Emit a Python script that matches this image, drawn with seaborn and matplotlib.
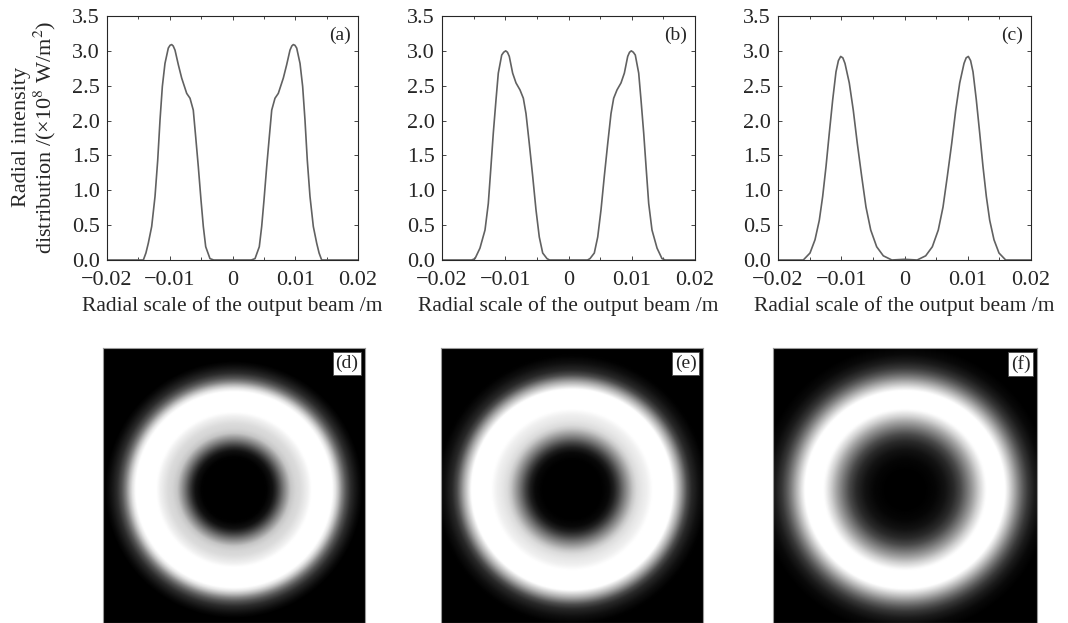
import numpy as np
import matplotlib
matplotlib.use("Agg")
import matplotlib.pyplot as plt
import seaborn as sns
import pandas as pd

# радиальные профили (половина пучка, r в метрах), читаются с рисунка
r_a = [0.0, 0.0030, 0.00359, 0.00427, 0.00465, 0.00502, 0.00545, 0.00587, 0.00625,
       0.00677, 0.0073, 0.0081, 0.00863, 0.00916, 0.00945, 0.00969, 0.00995, 0.01023,
       0.01076, 0.01118, 0.01155, 0.01192, 0.01235, 0.01288, 0.01342, 0.0138, 0.01421,
       0.0150, 0.0200]
I_a = [0.0, 0.0, 0.02, 0.19, 0.48, 0.86, 1.34, 1.77, 2.15,
       2.32, 2.39, 2.61, 2.80, 3.01, 3.07, 3.09, 3.08, 3.04,
       2.82, 2.49, 2.01, 1.43, 0.91, 0.48, 0.24, 0.10, 0.0,
       0.0, 0.0]

r_b = [0.0, 0.0030, 0.0034, 0.00408, 0.00462, 0.00514, 0.00566, 0.0062, 0.00672,
       0.00714, 0.00767, 0.0083, 0.00883, 0.00936, 0.00965, 0.00993, 0.01025, 0.01056,
       0.0111, 0.01146, 0.01189, 0.0123, 0.01268, 0.0132, 0.0140, 0.01478, 0.0153,
       0.0200]
I_b = [0.0, 0.0, 0.02, 0.10, 0.33, 0.72, 1.20, 1.67, 2.10,
       2.32, 2.44, 2.54, 2.68, 2.92, 2.98, 3.00, 2.98, 2.94,
       2.68, 2.30, 1.82, 1.29, 0.81, 0.43, 0.17, 0.02, 0.0,
       0.0]

r_c = [0.0, 0.0020, 0.00335, 0.0044, 0.00534, 0.00609, 0.00677, 0.00746, 0.0081,
       0.00873, 0.00941, 0.00975, 0.01009, 0.01045, 0.01083, 0.01135, 0.01189, 0.01241,
       0.01294, 0.01347, 0.01415, 0.01494, 0.0160, 0.0200]
I_c = [0.01, 0.0, 0.06, 0.19, 0.43, 0.76, 1.20, 1.67, 2.15,
       2.54, 2.82, 2.90, 2.92, 2.86, 2.70, 2.30, 1.82, 1.34,
       0.91, 0.57, 0.29, 0.10, 0.0, 0.0]

profiles = [(r_a, I_a), (r_b, I_b), (r_c, I_c)]
top_tags = ["(a)", "(b)", "(c)"]
img_tags = ["(d)", "(e)", "(f)"]

x_ticks = [-0.02, -0.01, 0, 0.01, 0.02]
x_labels = ["\u22120.02", "\u22120.01", "0", "0.01", "0.02"]
y_ticks = [0.0, 0.5, 1.0, 1.5, 2.0, 2.5, 3.0, 3.5]
y_labels = ["0.0", "0.5", "1.0", "1.5", "2.0", "2.5", "3.0", "3.5"]

sns.set_style("ticks")
plt.rcParams["font.family"] = ["Liberation Serif", "DejaVu Serif"]
plt.rcParams["mathtext.fontset"] = "stix"

W, H = 1068, 623
fig = plt.figure(figsize=(W / 100, H / 100), dpi=100)

# верхний ряд: графики профилей
top_left = [107, 442, 778]
top_w = [251, 253, 253]
for k in range(3):
    ax = fig.add_axes([top_left[k] / W, (H - 260) / H, top_w[k] / W, 244 / H])
    r, I = profiles[k]
    r = np.array(r)
    I = np.array(I)
    x = np.concatenate([-r[::-1], r[1:]])
    y = np.concatenate([I[::-1], I[1:]])
    df = pd.DataFrame({"x": x, "y": y})
    sns.lineplot(data=df, x="x", y="y", ax=ax, color="0.38", lw=1.2,
                 sort=False, estimator=None)
    ax.set_xlim(-0.02, 0.02)
    ax.set_ylim(0, 3.5)
    ax.set_xticks(x_ticks)
    ax.set_xticklabels(x_labels)
    ax.set_xticks(np.arange(-0.02, 0.0201, 0.005), minor=True)
    ax.set_yticks(y_ticks)
    ax.set_yticklabels(y_labels)
    ax.tick_params(which="both", direction="in", top=True, right=True,
                   length=3, width=0.6, labelsize=16)
    ax.tick_params(axis="x", which="major", pad=8)
    ax.tick_params(axis="y", pad=5)
    ax.tick_params(which="minor", length=2)
    for s in ax.spines.values():
        s.set_linewidth(0.8)
    ax.set_xlabel("Radial scale of the output beam /m", fontsize=15.5, labelpad=4)
    ax.set_ylabel("")
    ax.text(0.97, 0.955, top_tags[k], transform=ax.transAxes, ha="right",
            va="top", fontsize=14)

fig.text(35 / W, 1 - 137 / H,
         "Radial intensity\ndistribution /(\u00d710$^{8}$ W/m$^{2}$)",
         rotation=90, ha="center", va="center", fontsize=16,
         linespacing=1.0, multialignment="center")

# нижний ряд: двумерное распределение, построенное из тех же профилей
img_left = [103, 441, 773]
img_w = [262, 262, 264]
half_x = 0.0144
y_top, y_bot = 0.0156, -0.0147
for k in range(3):
    ax = fig.add_axes([img_left[k] / W, 0, img_w[k] / W, 275 / H])
    r, I = profiles[k]
    gx = np.linspace(-half_x, half_x, 420)
    gy = np.linspace(y_bot, y_top, 440)
    XX, YY = np.meshgrid(gx, gy)
    RR = np.sqrt(XX ** 2 + YY ** 2)
    field = np.interp(RR, r, I)
    ax.imshow(field, cmap="gray", origin="lower", aspect="auto",
              extent=[-half_x, half_x, y_bot, y_top],
              vmin=0, vmax=0.9 * max(I), interpolation="bilinear")
    ax.set_xticks([])
    ax.set_yticks([])
    for s in ax.spines.values():
        s.set_color("0.6")
        s.set_linewidth(0.8)
    ax.text(0.975, 0.975, img_tags[k], transform=ax.transAxes, ha="right",
            va="top", fontsize=14,
            bbox=dict(boxstyle="square,pad=0.15", fc="white", ec="0.3", lw=0.6))

fig.savefig("out.png", dpi=100)
